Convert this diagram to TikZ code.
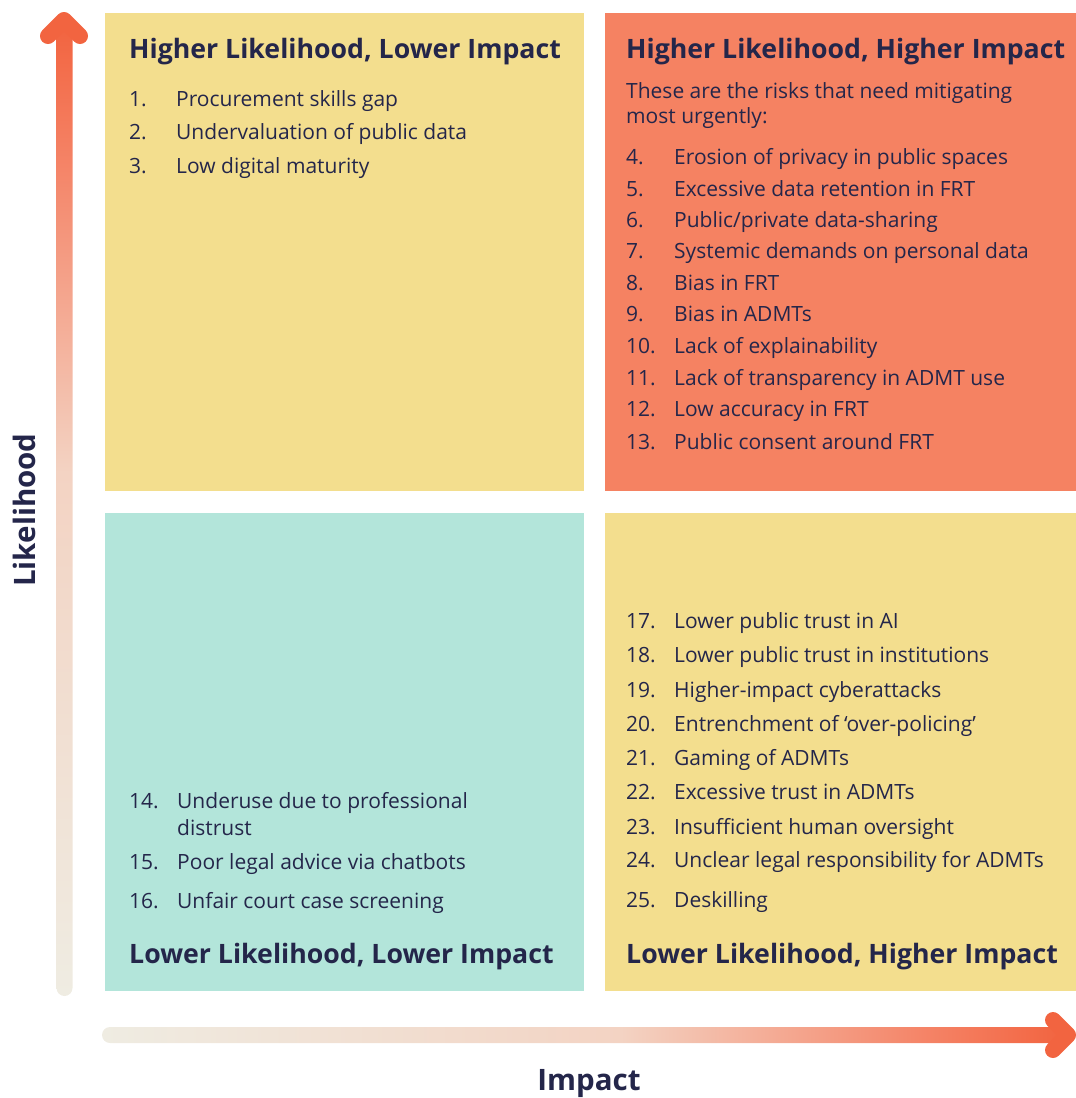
\documentclass[tikz,border=0pt]{standalone}
\usepackage{fontspec}
\setmainfont{Open Sans}
\definecolor{yelc}{HTML}{F3DE8E}
\definecolor{orac}{HTML}{F58262}
\definecolor{teac}{HTML}{B3E5DA}
\definecolor{txtc}{HTML}{24264A}
\definecolor{arrc}{HTML}{F26440}
\definecolor{beic}{HTML}{EFECE2}
\definecolor{midc}{HTML}{F3D3C3}
\pgfdeclareverticalshading{vshade}{100bp}{color(0bp)=(beic); color(25bp)=(beic); color(52bp)=(midc); color(68bp)=(arrc!80!white); color(75bp)=(arrc); color(100bp)=(arrc)}
\pgfdeclarehorizontalshading{hshade}{100bp}{color(0bp)=(beic); color(25bp)=(beic); color(52bp)=(midc); color(68bp)=(arrc!80!white); color(75bp)=(arrc); color(100bp)=(arrc)}
\tikzset{
  quad/.style={draw=none, inner sep=0pt, minimum width=479pt, minimum height=478pt, anchor=north west},
  quadr/.style={quad, minimum width=471pt},
  ttl/.style={inner sep=0pt, anchor=base west, text=txtc, font=\fontsize{26.7}{32}\selectfont\bfseries},
  itm/.style={inner sep=0pt, anchor=base west, text=txtc, font=\fontsize{21}{25}\selectfont},
  axl/.style={inner sep=0pt, text=txtc, font=\fontsize{29.5}{34}\selectfont\bfseries},
  headc/.style={draw=arrc, line width=16pt, line cap=round, line join=round},
}
\begin{document}
\begin{tikzpicture}[x=1pt,y=-1pt]
\useasboundingbox (0,0) rectangle (1076,1098);
% quadrants
\node[quad, fill=yelc] (q1) at (105,13) {};
\node[quadr, fill=orac] (q2) at (605,13) {};
\node[quad, fill=teac] (q3) at (105,513) {};
\node[quadr, fill=yelc] (q4) at (605,513) {};
% axes
\shade[shading=vshade, rounded corners=8pt] (56.5,26) rectangle (72.5,996);
\coordinate (va) at (48,36);
\coordinate (vt) at (64,20);
\coordinate (vb) at (80,36);
\draw[headc] (va) -- (vt) -- (vb);
\shade[shading=hshade, rounded corners=8pt] (102,1027) rectangle (1062,1043);
\coordinate (ha) at (1053,1020);
\coordinate (ht) at (1068,1035);
\coordinate (hb) at (1053,1050);
\draw[headc] (ha) -- (ht) -- (hb);
\node[axl, rotate=90] (ylab) at (24,510) {Likelihood};
\node[axl, anchor=base] (xlab) at (589,1090) {Impact};
% top-left
\node[ttl] (t1) at (129,58) {Higher Likelihood, Lower Impact};
\foreach \n/\y/\t in {1/106/{Procurement skills gap},2/139/{Undervaluation of public data},3/173/{Low digital maturity}}{
  \node[itm] (n\n) at (129,\y) {\n.};
  \node[itm] (i\n) at (176,\y) {\t};
}
% top-right
\node[ttl] (t2) at (626,58) {Higher Likelihood, Higher Impact};
\node[itm] (p1) at (626,98) {These are the risks that need mitigating};
\node[itm] (p2) at (626,123) {most urgently:};
\foreach \n/\y/\t in {4/164/{Erosion of privacy in public spaces},5/196/{Excessive data retention in FRT},6/227/{Public/private data-sharing},7/258/{Systemic demands on personal data},8/290/{Bias in FRT},9/321/{Bias in ADMTs},10/353/{Lack of explainability},11/385/{Lack of transparency in ADMT use},12/416/{Low accuracy in FRT},13/449/{Public consent around FRT}}{
  \node[itm] (n\n) at (626,\y) {\n.};
  \node[itm] (i\n) at (674,\y) {\t};
}
% bottom-left
\node[itm] (n14) at (129,808) {14.};
\node[itm] (i14) at (177,808) {Underuse due to professional};
\node[itm] (i14b) at (177,835) {distrust};
\node[itm] (n15) at (129,869) {15.};
\node[itm] (i15) at (177,869) {Poor legal advice via chatbots};
\node[itm] (n16) at (129,908) {16.};
\node[itm] (i16) at (177,908) {Unfair court case screening};
\node[ttl] (t3) at (129,963) {Lower Likelihood, Lower Impact};
% bottom-right
\foreach \n/\y/\t in {17/628/{Lower public trust in AI},18/662/{Lower public trust in institutions},19/697/{Higher-impact cyberattacks},20/731/{Entrenchment of ‘over-policing’},21/765/{Gaming of ADMTs},22/799/{Excessive trust in ADMTs},23/834/{Insufficient human oversight},24/867/{Unclear legal responsibility for ADMTs},25/907/{Deskilling}}{
  \node[itm] (n\n) at (626,\y) {\n.};
  \node[itm] (i\n) at (674,\y) {\t};
}
\node[ttl] (t4) at (626,963) {Lower Likelihood, Higher Impact};
\end{tikzpicture}
\end{document}
